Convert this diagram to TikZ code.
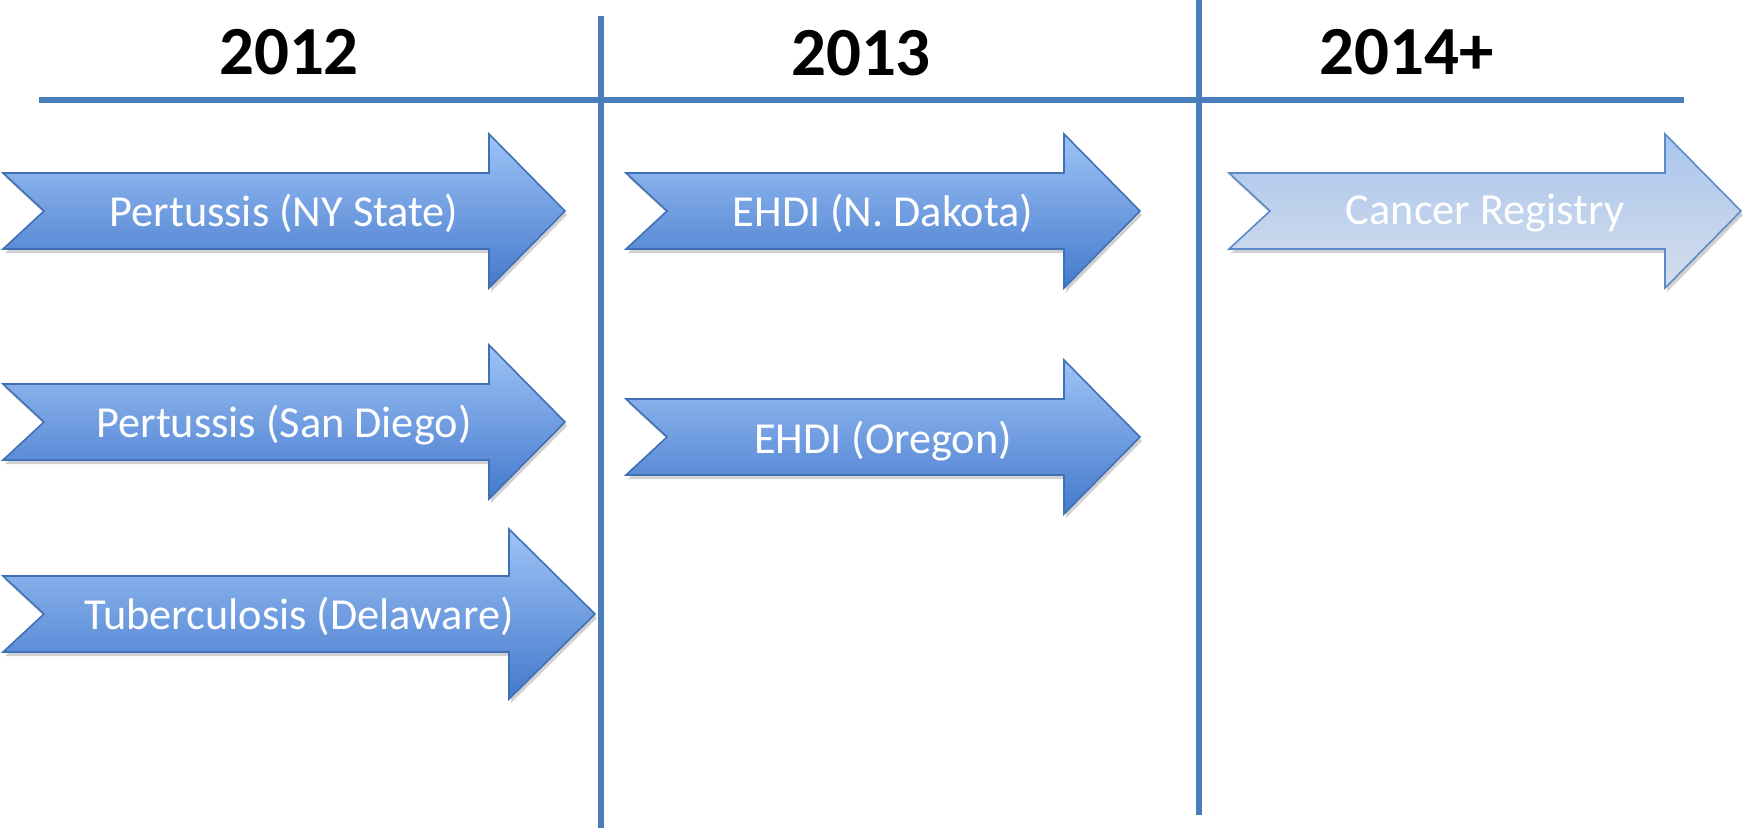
\documentclass[tikz,border=0pt]{standalone}
\usepackage{fontspec}
\setmainfont{Carlito}
\definecolor{rulebl}{HTML}{4A7EBB}
\definecolor{arrtop}{HTML}{9EC3F6}
\definecolor{arrbot}{HTML}{4479CC}
\definecolor{arredge}{HTML}{3F70B5}
\definecolor{futtop}{HTML}{A9C5EE}
\definecolor{futbot}{HTML}{D5DEEA}
\definecolor{futedge}{HTML}{5A8BC8}
\begin{document}
\begin{tikzpicture}[x=0.01cm,y=-0.01cm,
		yearlbl/.style={font=\fontsize{19.6}{23}\selectfont\bfseries},
		arrowlbl/.style={text=white,font=\fontsize{12.6}{15}\selectfont},
		nowarrow/.style={draw=arredge,line width=0.45pt,top color=arrtop,bottom color=arrbot},
		futarrow/.style={draw=futedge,line width=0.45pt,top color=futtop,bottom color=futbot},
		rule/.style={draw=rulebl,line width=1.45pt}]
	\useasboundingbox (0,0) rectangle (1743,832);
	\def\bh{38} % halbe Hoehe des Schafts
	\def\nd{41} % Tiefe der Kerbe
	% #1 Stil, #2 links, #3 Spitze, #4 Mitte y, #5 halbe Kopfhoehe, #6 Kopflaenge
	\def\tlarrow#1#2#3#4#5#6{%
		\fill[black,opacity=0.18,shift={(2,4)}] (#2,#4-\bh) -- (#3-#6,#4-\bh) -- (#3-#6,#4-#5) -- (#3,#4)
			-- (#3-#6,#4+#5) -- (#3-#6,#4+\bh) -- (#2,#4+\bh) -- (#2+\nd,#4) -- cycle;
		\path[#1] (#2,#4-\bh) -- (#3-#6,#4-\bh) -- (#3-#6,#4-#5) -- (#3,#4)
			-- (#3-#6,#4+#5) -- (#3-#6,#4+\bh) -- (#2,#4+\bh) -- (#2+\nd,#4) -- cycle;}
	% Zeitachse
	\draw[rule] (39,100) -- (1684,100);
	\draw[rule] (601,16) -- (601,828);
	\draw[rule] (1199,0) -- (1199,815);
	\node[yearlbl] (y12) at (289,52) {2012};
	\node[yearlbl] (y13) at (861,53) {2013};
	\node[yearlbl] (y14) at (1407,52) {2014+};
	% 2012
	\tlarrow{nowarrow}{3}{565}{211}{77}{76}
	\node[arrowlbl] (nyst) at (284,213) {Pertussis (NY State)};
	\tlarrow{nowarrow}{3}{565}{422}{77}{76}
	\node[arrowlbl] (sdiego) at (284,425) {Pertussis (San Diego)};
	\tlarrow{nowarrow}{3}{595}{614}{85}{86}
	\node[arrowlbl] (delaw) at (299,616) {Tuberculosis (Delaware)};
	% 2013
	\tlarrow{nowarrow}{626}{1140}{211}{77}{76}
	\node[arrowlbl] (ndak) at (883,213) {EHDI (N. Dakota)};
	\tlarrow{nowarrow}{626}{1140}{437}{77}{76}
	\node[arrowlbl] (oreg) at (883,441) {EHDI (Oregon)};
	% 2014+
	\tlarrow{futarrow}{1229}{1741}{211}{77}{76}
	\node[arrowlbl] (canreg) at (1485,213) {Cancer Registry};
\end{tikzpicture}
\end{document}
